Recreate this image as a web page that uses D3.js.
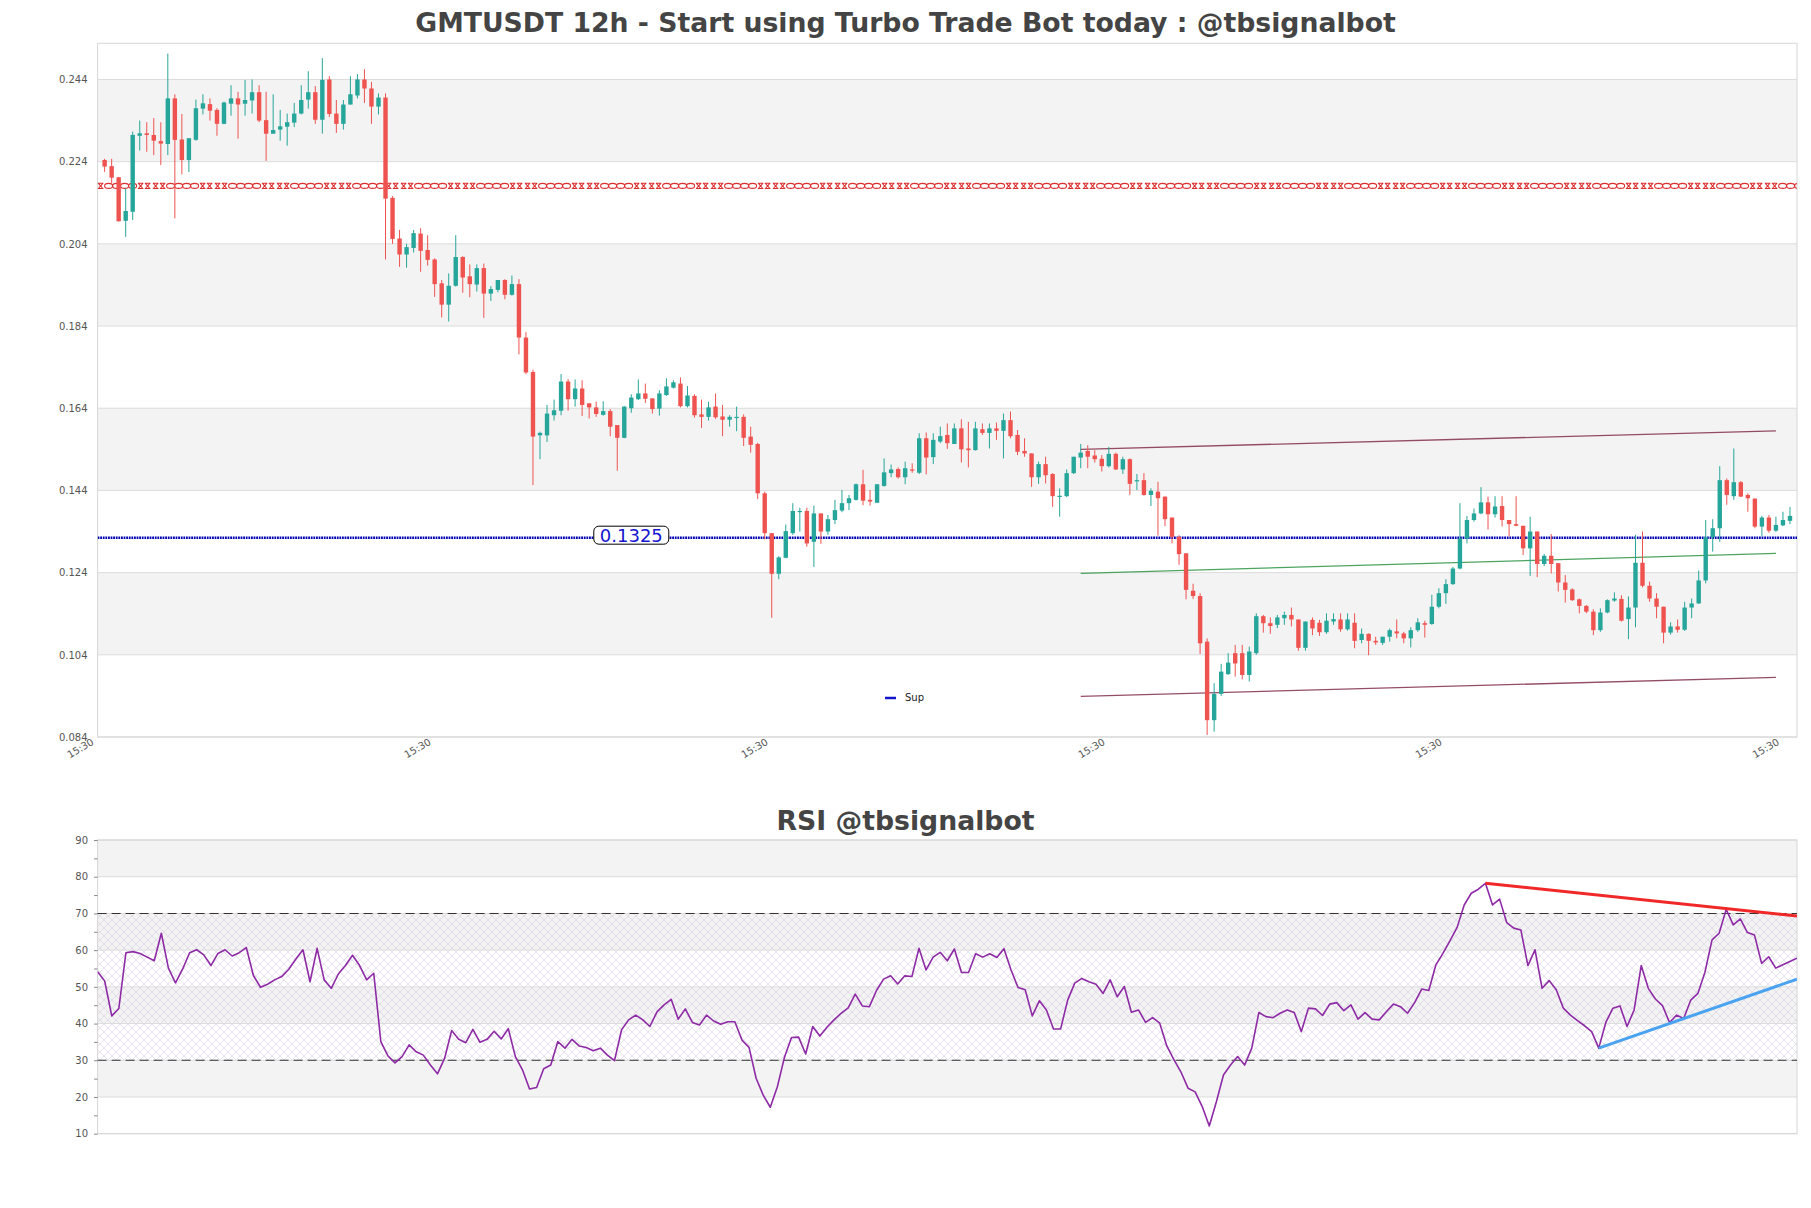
<!DOCTYPE html>
<html><head><meta charset="utf-8">
<script src="https://cdn.jsdelivr.net/npm/d3@7"></script>
<style>
body{margin:0;background:#fff;}
svg{display:block;font-family:"DejaVu Sans",sans-serif;}
</style>
</head><body>
<svg id="chart" width="1811" height="1208"></svg>
<script>
// ---------------- DATA ----------------
const opens = [.2244,.2229,.2202,.2096,.2118,.2303,.2309,.2305,.2290,.2283,
.2394,.2294,.2244,.2293,.2369,.2380,.2366,.2332,.2381,.2394,
.2381,.2389,.2409,.2341,.2308,.2318,.2325,.2335,.2357,.2391,
.2409,.2342,.2440,.2357,.2332,.2379,.2401,.2440,.2418,.2374,
.2396,.2152,.2053,.2014,.2030,.2065,.2025,.2002,.1944,.1892,
.1938,.2008,.1961,.1941,.1981,.1919,.1928,.1952,.1916,.1942,
.1812,.1728,.1574,.1574,.1623,.1634,.1705,.1662,.1688,.1652,
.1642,.1624,.1633,.1599,.1568,.1640,.1662,.1676,.1664,.1639,
.1672,.1690,.1700,.1645,.1670,.1625,.1619,.1644,.1620,.1612,
.1618,.1619,.1571,.1553,.1433,.1336,.1237,.1276,.1336,.1389,
.1390,.1315,.1384,.1340,.1368,.1391,.1409,.1417,.1455,.1417,
.1410,.1451,.1482,.1492,.1472,.1491,.1483,.1567,.1521,.1559,
.1575,.1553,.1591,.1542,.1538,.1589,.1580,.1591,.1585,.1611,
.1575,.1536,.1530,.1472,.1504,.1480,.1425,.1426,.1482,.1520,
.1536,.1525,.1517,.1499,.1529,.1491,.1516,.1462,.1465,.1429,
.1437,.1425,.1374,.1327,.1287,.1196,.1183,.1072,.0881,.0945,
.0993,.1044,.1044,.0991,.1044,.1134,.1117,.1113,.1129,.1137,
.1126,.1057,.1125,.1118,.1095,.1121,.1126,.1102,.1118,.1076,
.1091,.1074,.1069,.1084,.1097,.1092,.1080,.1100,.1117,.1115,
.1157,.1190,.1212,.1250,.1323,.1368,.1384,.1411,.1382,.1402,
.1368,.1358,.1354,.1299,.1340,.1261,.1281,.1263,.1216,.1199,
.1175,.1159,.1145,.1100,.1143,.1172,.1176,.1127,.1155,.1264,
.1208,.1177,.1157,.1094,.1109,.1101,.1155,.1165,.1221,.1326,
.1348,.1465,.1426,.1460,.1429,.1420,.1352,.1374,.1342,.1355,
.1366];
const highs = [.2247,.2247,.2203,.2175,.2313,.2340,.2336,.2346,.2336,.2503,
.2404,.2356,.2297,.2391,.2404,.2394,.2370,.2386,.2426,.2410,
.2439,.2440,.2426,.2410,.2404,.2366,.2357,.2383,.2426,.2460,
.2424,.2492,.2448,.2390,.2390,.2448,.2453,.2465,.2434,.2406,
.2406,.2156,.2074,.2040,.2074,.2078,.2061,.2005,.1952,.1968,
.2061,.2010,.1990,.1990,.1992,.1937,.1952,.1954,.1963,.1954,
.1825,.1734,.1583,.1648,.1661,.1723,.1711,.1710,.1708,.1652,
.1656,.1657,.1638,.1599,.1645,.1674,.1710,.1700,.1664,.1684,
.1713,.1708,.1715,.1694,.1674,.1661,.1656,.1676,.1648,.1623,
.1644,.1625,.1595,.1556,.1437,.1336,.1280,.1357,.1409,.1398,
.1398,.1403,.1384,.1380,.1417,.1441,.1429,.1457,.1490,.1441,
.1455,.1518,.1503,.1496,.1510,.1506,.1579,.1581,.1579,.1595,
.1603,.1603,.1613,.1607,.1607,.1603,.1603,.1605,.1627,.1632,
.1587,.1567,.1530,.1510,.1522,.1482,.1445,.1491,.1522,.1553,
.1550,.1538,.1526,.1546,.1532,.1522,.1518,.1480,.1482,.1445,
.1461,.1425,.1374,.1331,.1287,.1213,.1190,.1080,.0971,.1018,
.1044,.1064,.1064,.1060,.1141,.1137,.1131,.1137,.1145,.1155,
.1126,.1121,.1131,.1125,.1141,.1141,.1141,.1141,.1141,.1104,
.1092,.1084,.1084,.1104,.1126,.1096,.1107,.1129,.1123,.1186,
.1202,.1224,.1254,.1409,.1378,.1396,.1448,.1425,.1426,.1426,
.1368,.1426,.1354,.1376,.1340,.1285,.1334,.1263,.1234,.1202,
.1177,.1161,.1151,.1153,.1175,.1192,.1185,.1182,.1332,.1340,
.1218,.1190,.1157,.1119,.1126,.1169,.1177,.1245,.1368,.1370,
.1499,.1469,.1542,.1463,.1433,.1421,.1378,.1380,.1376,.1388,
.1400];
const lows = [.2215,.2187,.2094,.2057,.2098,.2267,.2264,.2256,.2232,.2256,
.2102,.2209,.2215,.2291,.2355,.2340,.2303,.2331,.2352,.2296,
.2352,.2357,.2336,.2242,.2308,.2291,.2279,.2324,.2355,.2369,
.2332,.2308,.2349,.2310,.2318,.2379,.2394,.2383,.2332,.2355,
.2002,.2040,.1984,.1982,.2019,.1972,.1987,.1911,.1861,.1851,
.1936,.1921,.1910,.1924,.1860,.1901,.1922,.1905,.1914,.1771,
.1723,.1453,.1516,.1558,.1610,.1623,.1634,.1644,.1621,.1615,
.1619,.1622,.1572,.1488,.1567,.1629,.1660,.1653,.1627,.1622,
.1670,.1688,.1642,.1642,.1617,.1592,.1610,.1614,.1572,.1595,
.1584,.1548,.1532,.1419,.1321,.1130,.1224,.1275,.1332,.1340,
.1303,.1254,.1310,.1332,.1358,.1387,.1392,.1415,.1404,.1403,
.1409,.1449,.1472,.1469,.1455,.1483,.1480,.1479,.1504,.1555,
.1541,.1553,.1508,.1496,.1537,.1575,.1542,.1563,.1518,.1567,
.1526,.1522,.1449,.1456,.1457,.1400,.1376,.1424,.1480,.1494,
.1494,.1508,.1486,.1496,.1490,.1480,.1429,.1441,.1427,.1402,
.1330,.1353,.1311,.1259,.1175,.1176,.1042,.0845,.0853,.0940,
.0991,.0987,.0980,.0975,.1040,.1094,.1091,.1105,.1113,.1109,
.1050,.1050,.1088,.1086,.1091,.1113,.1096,.1099,.1056,.1068,
.1039,.1064,.1064,.1072,.1080,.1068,.1058,.1096,.1082,.1113,
.1153,.1164,.1210,.1248,.1311,.1364,.1382,.1345,.1374,.1352,
.1328,.1353,.1283,.1232,.1229,.1256,.1238,.1194,.1167,.1171,
.1141,.1141,.1088,.1096,.1141,.1169,.1121,.1078,.1107,.1204,
.1169,.1129,.1068,.1089,.1094,.1098,.1129,.1164,.1214,.1291,
.1315,.1405,.1417,.1424,.1388,.1348,.1328,.1337,.1339,.1353,
.1358];
const closes = [.2228,.2201,.2095,.2120,.2305,.2309,.2305,.2291,.2284,.2394,
.2293,.2244,.2297,.2370,.2382,.2364,.2332,.2384,.2394,.2379,
.2390,.2409,.2340,.2308,.2317,.2326,.2336,.2357,.2390,.2409,
.2342,.2439,.2356,.2332,.2379,.2404,.2440,.2418,.2374,.2396,
.2150,.2052,.2014,.2032,.2066,.2023,.2001,.1942,.1892,.1938,
.2008,.1958,.1942,.1981,.1919,.1930,.1952,.1916,.1942,.1812,
.1727,.1571,.1580,.1627,.1635,.1705,.1662,.1688,.1648,.1642,
.1626,.1633,.1595,.1568,.1644,.1666,.1676,.1663,.1638,.1676,
.1693,.1703,.1645,.1671,.1623,.1619,.1642,.1618,.1612,.1619,
.1619,.1568,.1551,.1433,.1336,.1237,.1277,.1341,.1390,.1390,
.1311,.1384,.1340,.1370,.1392,.1409,.1421,.1455,.1415,.1413,
.1455,.1484,.1491,.1472,.1494,.1488,.1567,.1520,.1563,.1572,
.1555,.1591,.1540,.1538,.1591,.1580,.1591,.1585,.1611,.1572,
.1534,.1530,.1472,.1504,.1477,.1426,.1427,.1482,.1522,.1532,
.1522,.1516,.1499,.1529,.1491,.1516,.1456,.1465,.1429,.1439,
.1421,.1370,.1327,.1285,.1198,.1183,.1068,.0881,.0945,.0999,
.1021,.1019,.0991,.1048,.1134,.1117,.1110,.1131,.1137,.1126,
.1057,.1121,.1104,.1095,.1123,.1127,.1102,.1126,.1074,.1091,
.1074,.1070,.1084,.1100,.1092,.1080,.1100,.1119,.1113,.1157,
.1190,.1212,.1250,.1323,.1368,.1384,.1411,.1382,.1401,.1368,
.1358,.1354,.1299,.1340,.1261,.1281,.1261,.1216,.1198,.1173,
.1159,.1145,.1100,.1143,.1173,.1177,.1123,.1155,.1264,.1208,
.1177,.1157,.1094,.1109,.1101,.1155,.1165,.1221,.1326,.1348,
.1465,.1429,.1460,.1425,.1421,.1352,.1374,.1342,.1356,.1368,
.1378];
const rsiValues = [54.1,51.6,42.1,44.1,59.3,59.6,59.1,58.1,57.1,64.6,
55.1,51.1,54.8,59.3,60.1,58.7,55.8,59.1,60.1,58.4,
59.3,60.7,53.1,49.9,50.7,51.9,52.8,54.8,57.6,60.1,
51.4,60.5,51.9,49.6,53.5,55.8,58.6,55.8,51.9,53.7,
35.1,31.2,29.3,31.0,34.2,32.3,31.4,28.7,26.3,30.5,
38.1,35.7,34.8,38.4,34.9,35.7,37.9,35.8,38.6,31.0,
27.4,22.2,22.6,27.7,28.7,35.1,33.3,35.7,33.9,33.5,
32.6,33.3,31.4,29.9,38.3,41.0,42.3,41.0,39.2,43.2,
45.1,46.6,41.2,44.0,40.3,39.6,42.3,40.7,39.8,40.5,
40.5,35.5,33.5,25.1,20.5,17.2,22.8,30.8,36.2,36.3,
31.7,39.2,36.6,39.0,41.0,42.8,44.3,48.0,44.8,44.6,
49.0,52.1,53.0,50.8,53.0,52.8,60.5,54.6,58.1,59.4,
57.1,60.3,53.9,53.9,59.0,58.1,59.0,58.0,60.4,54.6,
49.8,49.2,42.1,46.2,43.7,38.5,38.5,46.4,51.0,52.3,
51.4,50.7,48.2,51.9,47.3,50.1,43.1,43.7,40.3,41.6,
40.1,33.9,30.2,26.8,22.4,21.4,17.4,12.1,18.7,26.0,
28.7,31.0,28.7,33.3,43.0,41.9,41.6,42.8,43.7,43.0,
37.8,44.2,44.0,42.2,45.3,45.7,43.5,45.1,41.2,43.0,
41.2,41.0,43.2,45.3,44.6,42.8,45.7,49.4,49.0,56.0,
59.1,62.6,66.2,72.3,75.5,76.6,78.2,72.3,73.9,67.5,
66.0,65.5,55.8,60.1,49.6,51.7,49.2,44.2,42.3,40.8,
39.4,37.8,33.3,40.3,44.2,44.8,39.2,43.7,55.8,49.6,
46.7,44.9,40.3,42.3,41.4,46.4,48.2,54.0,62.8,64.6,
71.1,66.9,68.5,64.8,64.1,56.4,58.2,55.1,56.0,56.9,
57.8];

const priceTicks = [0.084,0.104,0.124,0.144,0.164,0.184,0.204,0.224,0.244];
const priceDomain = [0.084, 0.2528];
const rsiTicks = [10,20,30,40,50,60,70,80,90];
const rsiMinorTicks = [15,25,35,45,55,65,75,85];
const xTickIndex = [-1,47,95,143,191,239];
const xTickLabels = ["15:30","15:30","15:30","15:30","15:30","15:30"];

const titleMain = "GMTUSDT 12h - Start using Turbo Trade Bot today : @tbsignalbot";
const titleRsi = "RSI @tbsignalbot";

const supportLevel = 0.1325;
const supportLabel = "0.1325";
const supportLabelIndex = 75;
const legendLabel = "Sup";
const resistanceLevel = 0.2181;

const channelX = [139, 238];
const channelUpper = [0.1540, 0.1585];
const channelMid = [0.1238, 0.1287];
const channelLower = [0.0939, 0.0985];

const rsiLevels = [70, 30];
const rsiDownX = [196, 240], rsiDownY = [78.2, 69.3];
const rsiUpX = [212, 240], rsiUpY = [33.3, 52.1];

// ---------------- LAYOUT ----------------
const W = 1811, H = 1208;
const L = 97.6, R = 1797;
const mainTop = 43.3, mainBot = 737;
const rsiTop = 840, rsiBot = 1133.7;
const N = closes.length;

const svg = d3.select("#chart");
svg.append("rect").attr("width", W).attr("height", H).attr("fill", "#fff");

const x = d3.scaleLinear().domain([-1, N]).range([L, R]);
const y = d3.scaleLinear().domain(priceDomain).range([mainBot, mainTop]);
const xr = d3.scaleLinear().domain([0, rsiValues.length - 1]).range([L, R]);
const yr = d3.scaleLinear().domain([10, 90]).range([rsiBot, rsiTop]);

const defs = svg.append("defs");
defs.append("clipPath").attr("id","clipMain").append("rect")
  .attr("x", L).attr("y", mainTop).attr("width", R - L).attr("height", mainBot - mainTop);
defs.append("clipPath").attr("id","clipRsi").append("rect")
  .attr("x", L).attr("y", rsiTop).attr("width", R - L).attr("height", rsiBot - rsiTop);
const hatch = defs.append("pattern").attr("id","hatch").attr("patternUnits","userSpaceOnUse")
  .attr("width", 8).attr("height", 8);
hatch.append("path").attr("d","M0,0L8,8M8,0L0,8").attr("stroke","#cfc2dc").attr("stroke-width",0.6).attr("fill","none");

// ---------------- TITLES ----------------
svg.append("text").attr("x", 905.5).attr("y", 32).attr("text-anchor","middle")
  .attr("font-size", 26.7).attr("font-weight","bold").attr("fill","#444").text(titleMain);
svg.append("text").attr("x", 905.5).attr("y", 830).attr("text-anchor","middle")
  .attr("font-size", 26.7).attr("font-weight","bold").attr("fill","#444").text(titleRsi);

// ---------------- MAIN PANEL ----------------
const gMain = svg.append("g");
const bandPairs = d3.range(1, priceTicks.length - 1, 2).map(k => [priceTicks[k], priceTicks[k+1]]);
gMain.selectAll("rect.band").data(bandPairs).join("rect")
  .attr("x", L).attr("width", R - L)
  .attr("y", d => y(d[1])).attr("height", d => y(d[0]) - y(d[1]))
  .attr("fill", "#f3f3f3");
gMain.selectAll("line.grid").data(priceTicks).join("line")
  .attr("x1", L).attr("x2", R).attr("y1", d => y(d)).attr("y2", d => y(d))
  .attr("stroke", "#dcdcdc").attr("stroke-width", 1);
gMain.append("rect").attr("x", L).attr("y", mainTop).attr("width", R - L).attr("height", mainBot - mainTop)
  .attr("fill","none").attr("stroke","#d6d6d6").attr("stroke-width",1);

const yAxis = d3.axisLeft(y).tickValues(priceTicks).tickFormat(d3.format(".3f")).tickSize(0).tickPadding(10);
const gy = gMain.append("g").attr("transform", `translate(${L},0)`).call(yAxis);
gy.select(".domain").remove();
gy.selectAll("text").attr("font-size", 10).attr("fill", "#555").attr("font-family","DejaVu Sans");

const xAxis = d3.axisBottom(x).tickValues(xTickIndex).tickFormat((d,i) => xTickLabels[i]).tickSize(0);
const gx = gMain.append("g").attr("transform", `translate(0,${mainBot})`).call(xAxis);
gx.select(".domain").remove();
gx.selectAll("text").attr("y", 0).attr("dy", 0).attr("text-anchor","end")
  .attr("transform","translate(-3.5,7) rotate(-30)")
  .attr("font-size", 10).attr("fill", "#555").attr("font-family","DejaVu Sans");

const plot = gMain.append("g").attr("clip-path","url(#clipMain)");

// resistance marker line (red chain)
const yRes = y(resistanceLevel);
const resG = plot.append("g").attr("stroke","#dc2f2f").attr("fill","none").attr("stroke-width",1.1);
const periods = d3.range(L - 4, R, 62);
periods.forEach(p => {
  [0, 7, 47, 54].forEach(o => {
    const cx = p + o;
    resG.append("path").attr("d", `M${cx-2.2},${yRes-2.6}L${cx+2.2},${yRes+2.6}M${cx-2.2},${yRes+2.6}L${cx+2.2},${yRes-2.6}M${cx-2.8},${yRes-2.6}L${cx+2.8},${yRes-2.6}M${cx-2.8},${yRes+2.6}L${cx+2.8},${yRes+2.6}`);
  });
  [15, 23, 31, 39].forEach(o => {
    resG.append("ellipse").attr("cx", p + o).attr("cy", yRes).attr("rx", 4).attr("ry", 2.5);
  });
});

// support line (blue dotted)
plot.append("line").attr("x1", x(-1)).attr("x2", x(N)).attr("y1", y(supportLevel)).attr("y2", y(supportLevel))
  .attr("stroke","#0000b4").attr("stroke-width", 2.6).attr("stroke-dasharray","1.8,0.8");

// channel lines
const chanLine = d3.line().x(d => x(d[0])).y(d => y(d[1]));
[[channelUpper,"#8a3a52"],[channelLower,"#8a3a52"],[channelMid,"#3a9a4e"]].forEach(([vals,col]) => {
  plot.append("path").attr("d", chanLine(channelX.map((cx,i) => [cx, vals[i]])))
    .attr("stroke", col).attr("stroke-width", 1.3).attr("fill","none").attr("opacity",0.9);
});

// candles
const candles = d3.range(N).map(i => ({i, o: opens[i], h: highs[i], l: lows[i], c: closes[i]}));
const up = "#26a69a", down = "#ef5350";
const bodyW = 4.4;
const cg = plot.append("g");
cg.selectAll("line.wick").data(candles).join("line")
  .attr("x1", d => x(d.i)).attr("x2", d => x(d.i))
  .attr("y1", d => y(d.h)).attr("y2", d => y(d.l))
  .attr("stroke", d => d.c >= d.o ? up : down).attr("stroke-width", 1);
cg.selectAll("rect.body").data(candles).join("rect")
  .attr("x", d => x(d.i) - bodyW/2).attr("width", bodyW)
  .attr("y", d => y(Math.max(d.o, d.c)))
  .attr("height", d => Math.max(1.2, Math.abs(y(d.o) - y(d.c))))
  .attr("fill", d => d.c >= d.o ? up : down);

// support label
const lx = x(supportLabelIndex), ly = y(supportLevel);
const lbl = gMain.append("g");
lbl.append("rect").attr("x", lx - 37.5).attr("y", ly - 11.5).attr("width", 75).attr("height", 18)
  .attr("rx", 5).attr("fill","#fff").attr("stroke","#000").attr("stroke-width",1);
lbl.append("text").attr("x", lx).attr("y", ly + 4.5).attr("text-anchor","middle")
  .attr("font-size", 18).attr("fill","#1414d0").text(supportLabel);

// legend
gMain.append("line").attr("x1", 885).attr("x2", 896).attr("y1", 698).attr("y2", 698)
  .attr("stroke","#1414c8").attr("stroke-width", 2.5);
gMain.append("text").attr("x", 905).attr("y", 701).attr("font-size", 10).attr("fill","#222").text(legendLabel);

// ---------------- RSI PANEL ----------------
const gR = svg.append("g");
const rBands = d3.range(1, rsiTicks.length - 1, 2).map(k => [rsiTicks[k], rsiTicks[k+1]]);
gR.selectAll("rect.band").data(rBands).join("rect")
  .attr("x", L).attr("width", R - L)
  .attr("y", d => yr(d[1])).attr("height", d => yr(d[0]) - yr(d[1]))
  .attr("fill", "#f3f3f3");
gR.append("rect").attr("x", L).attr("width", R - L)
  .attr("y", yr(rsiLevels[0])).attr("height", yr(rsiLevels[1]) - yr(rsiLevels[0]))
  .attr("fill", "url(#hatch)").attr("opacity", 0.8);
gR.selectAll("line.grid").data(rsiTicks).join("line")
  .attr("x1", L).attr("x2", R).attr("y1", d => yr(d)).attr("y2", d => yr(d))
  .attr("stroke", "#dcdcdc").attr("stroke-width", 1);
gR.append("rect").attr("x", L).attr("y", rsiTop).attr("width", R - L).attr("height", rsiBot - rsiTop)
  .attr("fill","none").attr("stroke","#d6d6d6").attr("stroke-width",1);

const ryAxis = d3.axisLeft(yr).tickValues(rsiTicks).tickSize(3.5).tickPadding(6);
const gry = gR.append("g").attr("transform", `translate(${L},0)`).call(ryAxis);
gry.select(".domain").remove();
gry.selectAll("line").attr("stroke","#888");
gry.selectAll("text").attr("font-size", 10).attr("fill", "#555").attr("font-family","DejaVu Sans");
const ryMinor = d3.axisLeft(yr).tickValues(rsiMinorTicks).tickFormat("").tickSize(3.5);
const grm = gR.append("g").attr("transform", `translate(${L},0)`).call(ryMinor);
grm.select(".domain").remove();
grm.selectAll("line").attr("stroke","#888");

gR.selectAll("line.lvl").data(rsiLevels).join("line")
  .attr("x1", L).attr("x2", R).attr("y1", d => yr(d)).attr("y2", d => yr(d))
  .attr("stroke","#333").attr("stroke-width",1.1).attr("stroke-dasharray","9,5");

const rplot = gR.append("g").attr("clip-path","url(#clipRsi)");
const rsiLine = d3.line().x((d,i) => xr(i)).y(d => yr(d));
rplot.append("path").datum(rsiValues).attr("d", rsiLine)
  .attr("fill","none").attr("stroke","#8e2aa6").attr("stroke-width",1.6).attr("stroke-linejoin","round");

const tl = d3.line().x(d => xr(d[0])).y(d => yr(d[1]));
rplot.append("path").attr("d", tl(rsiDownX.map((v,i)=>[v, rsiDownY[i]])))
  .attr("stroke","#f02828").attr("stroke-width",3).attr("fill","none");
rplot.append("path").attr("d", tl(rsiUpX.map((v,i)=>[v, rsiUpY[i]])))
  .attr("stroke","#4aa3f0").attr("stroke-width",3).attr("fill","none");
</script>
</body></html>
